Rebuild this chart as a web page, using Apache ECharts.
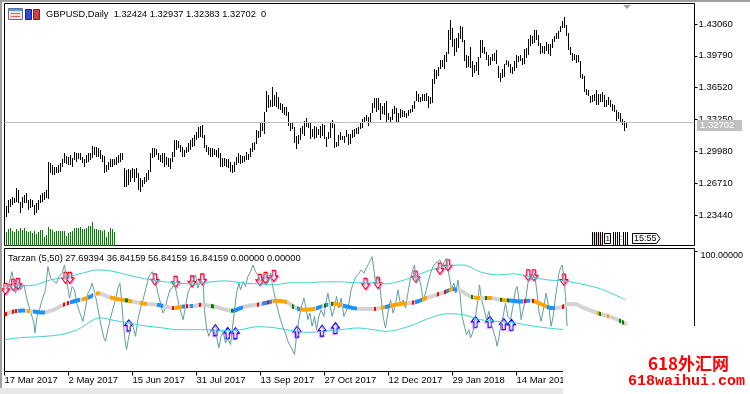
<!DOCTYPE html>
<html><head><meta charset="utf-8">
<script src="https://cdn.jsdelivr.net/npm/echarts@6/dist/echarts.min.js"></script>
<style>html,body{margin:0;padding:0;background:#fff}#c{width:750px;height:394px}</style>
</head><body><div id="c"></div>
<script>
// ---------- DATA ----------
const symbolTitle = 'GBPUSD,Daily';
const lastBar = {open: 1.32424, high: 1.32937, low: 1.32383, close: 1.32702};
const indicatorTitle = 'Tarzan (5,50) 27.69394 36.84159 56.84159 16.84159 0.00000 0.00000';
const dateTicks = ['17 Mar 2017','2 May 2017','15 Jun 2017','31 Jul 2017','13 Sep 2017','27 Oct 2017','12 Dec 2017','29 Jan 2018','14 Mar 2018'];
const dateTickIdx = [0,32,64,96,128,160,192,224,256];
const priceTicks = [1.43060,1.39790,1.36520,1.33250,1.29980,1.26710,1.23440];
const indTicks = [100];

const highs = [
1.2437,1.2498,1.2505,1.2526,1.2515,1.2618,1.2601,1.2481,1.2532,1.2550,
1.2567,1.2498,1.2505,1.2498,1.2447,1.2471,1.2498,1.2550,1.2567,1.2584,
1.2601,1.2892,1.2875,1.2858,1.2841,1.2841,1.2858,1.2875,1.2916,1.2978,
1.2950,1.2943,1.2960,1.2926,1.2995,1.2985,1.2978,1.2978,1.2943,1.2916,
1.2960,1.2978,1.2978,1.3053,1.3046,1.3039,1.3029,1.3012,1.2960,1.2950,
1.2858,1.2892,1.2916,1.2916,1.2916,1.2943,1.2960,1.2978,1.2978,1.2823,
1.2806,1.2813,1.2806,1.2823,1.2813,1.2823,1.2772,1.2721,1.2704,1.2731,
1.2772,1.2806,1.2978,1.3029,1.3029,1.3019,1.2978,1.2960,1.2985,1.2978,
1.2943,1.2926,1.2926,1.2995,1.3114,1.3114,1.3108,1.3063,1.3046,1.3012,
1.3046,1.3080,1.3114,1.3132,1.3166,1.3200,1.3251,1.3258,1.3269,1.3166,
1.3063,1.3046,1.3029,1.3029,1.3019,1.3012,1.3029,1.2978,1.2926,1.2926,
1.2916,1.2916,1.2892,1.2858,1.2892,1.2943,1.2978,1.2960,1.2950,1.2955,
1.2995,1.2975,1.3035,1.3080,1.3095,1.3222,1.3210,1.3290,1.3300,1.3400,
1.3615,1.3575,1.3530,1.3657,1.3580,1.3610,1.3560,1.3490,1.3480,1.3450,
1.3450,1.3400,1.3290,1.3300,1.3250,1.3160,1.3170,1.3240,1.3260,1.3310,
1.3340,1.3300,1.3300,1.3230,1.3260,1.3250,1.3230,1.3260,1.3280,1.3270,
1.3150,1.3200,1.3290,1.3320,1.3280,1.3090,1.3170,1.3200,1.3160,1.3160,
1.3220,1.3180,1.3180,1.3220,1.3230,1.3240,1.3250,1.3290,1.3330,1.3350,
1.3370,1.3350,1.3390,1.3490,1.3550,1.3550,1.3550,1.3490,1.3460,1.3490,
1.3520,1.3390,1.3350,1.3430,1.3460,1.3440,1.3390,1.3430,1.3420,1.3410,
1.3390,1.3420,1.3430,1.3470,1.3520,1.3615,1.3590,1.3560,1.3590,1.3590,
1.3600,1.3565,1.3560,1.3740,1.3840,1.3830,1.3860,1.3940,1.3940,1.3990,
1.4020,1.4240,1.4345,1.4260,1.4150,1.4160,1.4210,1.4290,1.4280,1.4140,
1.3990,1.3980,1.4070,1.3930,1.3880,1.3920,1.3970,1.4140,1.4140,1.4070,
1.4020,1.3990,1.3970,1.4000,1.4010,1.4040,1.3870,1.3800,1.3840,1.3890,
1.3940,1.3930,1.3900,1.3860,1.3930,1.3990,1.3980,1.3990,1.3960,1.4050,
1.4060,1.4150,1.4190,1.4180,1.4240,1.4245,1.4190,1.4110,1.4080,1.4080,
1.4120,1.4100,1.4100,1.4150,1.4180,1.4210,1.4230,1.4290,1.4340,1.4376,
1.4300,1.4210,1.4070,1.4010,1.4000,1.3990,1.3990,1.3930,1.3790,1.3770,
1.3640,1.3630,1.3570,1.3580,1.3590,1.3630,1.3590,1.3590,1.3610,1.3580,
1.3530,1.3560,1.3530,1.3480,1.3470,1.3420,1.3400,1.3390,1.3330,1.3310,
1.32937];
const lows = [
1.2327,1.2361,1.2423,1.2447,1.2464,1.2481,1.2464,1.2368,1.2413,1.2464,
1.2464,1.2396,1.2413,1.2423,1.2344,1.2361,1.2396,1.2464,1.2481,1.2498,
1.2515,1.2505,1.2772,1.2755,1.2755,1.2772,1.2772,1.2789,1.2841,1.2875,
1.2868,1.2858,1.2858,1.2834,1.2909,1.2892,1.2916,1.2909,1.2875,1.2841,
1.2875,1.2892,1.2909,1.2926,1.2960,1.2943,1.2943,1.2916,1.2892,1.2772,
1.2789,1.2806,1.2841,1.2841,1.2858,1.2858,1.2875,1.2892,1.2909,1.2635,
1.2635,1.2652,1.2686,1.2721,1.2686,1.2721,1.2601,1.2584,1.2635,1.2662,
1.2686,1.2704,1.2789,1.2926,1.2943,1.2960,1.2909,1.2892,1.2875,1.2841,
1.2858,1.2841,1.2813,1.2892,1.2943,1.3012,1.3029,1.2995,1.2943,1.2943,
1.2978,1.2995,1.3012,1.3046,1.3053,1.3114,1.3132,1.3149,1.3132,1.3029,
1.2995,1.2960,1.2943,1.2943,1.2960,1.2943,1.2926,1.2841,1.2841,1.2847,
1.2841,1.2823,1.2789,1.2772,1.2789,1.2858,1.2875,1.2870,1.2880,1.2885,
1.2910,1.2910,1.2935,1.2995,1.3015,1.3075,1.3135,1.3150,1.3205,1.3180,
1.3400,1.3440,1.3455,1.3450,1.3460,1.3450,1.3430,1.3420,1.3390,1.3370,
1.3360,1.3260,1.3210,1.3230,1.3080,1.3027,1.3070,1.3110,1.3180,1.3160,
1.3250,1.3240,1.3120,1.3150,1.3120,1.3130,1.3170,1.3140,1.3160,1.3120,
1.3040,1.3120,1.3130,1.3240,1.3030,1.3040,1.3050,1.3110,1.3110,1.3080,
1.3150,1.3060,1.3070,1.3130,1.3150,1.3180,1.3180,1.3230,1.3240,1.3300,
1.3310,1.3260,1.3290,1.3390,1.3440,1.3400,1.3420,1.3320,1.3380,1.3370,
1.3300,1.3320,1.3300,1.3320,1.3380,1.3300,1.3300,1.3340,1.3350,1.3350,
1.3340,1.3360,1.3390,1.3400,1.3430,1.3510,1.3500,1.3500,1.3520,1.3510,
1.3520,1.3440,1.3480,1.3490,1.3690,1.3740,1.3770,1.3840,1.3860,1.3840,
1.3920,1.4000,1.4140,1.4070,1.3980,1.4020,1.4060,1.4150,1.4120,1.3930,
1.3850,1.3860,1.3850,1.3760,1.3800,1.3820,1.3780,1.3960,1.4010,1.4000,
1.3940,1.3870,1.3880,1.3930,1.3930,1.3890,1.3750,1.3710,1.3750,1.3760,
1.3880,1.3860,1.3800,1.3790,1.3820,1.3850,1.3920,1.3930,1.3880,1.3890,
1.3960,1.3990,1.4080,1.4100,1.4110,1.4140,1.4080,1.4000,1.4010,1.4000,
1.4030,1.4000,1.3980,1.4060,1.4120,1.4150,1.4150,1.4220,1.4270,1.4270,
1.4180,1.4040,1.3990,1.3930,1.3940,1.3910,1.3920,1.3750,1.3740,1.3610,
1.3580,1.3570,1.3490,1.3500,1.3520,1.3470,1.3470,1.3500,1.3500,1.3450,
1.3450,1.3470,1.3450,1.3410,1.3400,1.3310,1.3330,1.3300,1.3270,1.3205,
1.32383];
const volumes = [
13300,16700,17300,15000,13300,16700,15000,17300,15700,17300,
15000,14000,15000,12700,15000,11700,13300,16000,15700,8300,
10700,18300,16700,15700,13300,15000,14300,15000,15000,15000,
10000,12700,14000,15000,17300,17300,17300,18300,16700,16700,
17300,19300,20000,23300,16700,16700,15700,15700,15000,15700,
9000,13300,17300,16700,13300];

// Tarzan indicator: [bar index, value]
const rsiPts = [[0,65],[2.8,82.9],[4.5,65],[6.2,74.7],[7,67.8],[8.7,71.9],[10.3,59.5],[12,49.9],[13.7,40.2],[14.2,32],[15.3,45.7],[16.7,52.6],[17.8,59.5],[19.5,67.8],[20.7,87.1],[22,77.4],[23.7,74.7],[25,73.3],[26.2,78.8],[27.8,81.5],[29,88.4],[30.3,73.3],[31.5,60.9],[32.8,70.5],[34,67.8],[35.3,55.4],[37,47.1],[38.2,41.6],[39.5,52.6],[40.7,65],[41.7,67.8],[42.8,73.3],[44.2,65],[45.7,52.6],[47,40.2],[48.7,27.8],[49.5,25.1],[50.7,34.7],[52,44.4],[53.3,52.6],[54.5,59.5],[55.7,69.1],[56.7,73.3],[57.5,59.5],[58.3,43],[59.2,26.4],[60,18.2],[61.2,29.2],[62.3,41.6],[63.7,34.7],[64.5,29.2],[65.7,43],[67,52.6],[68.3,59.5],[69.5,67.8],[71.2,78.8],[72.8,82.9],[73.7,84.3],[74.7,73.3],[75.7,65],[77,56.7],[78.2,48.5],[79.2,51.2],[80.3,59.5],[81.7,67.8],[82.8,69.1],[84,73.3],[85,65],[86.2,55.4],[87.3,48.5],[88.3,43],[89.5,54],[90.7,65],[92,70.5],
[93.3,76],[94.5,80.2],[95.7,69.1],[97,76],[98.3,73.3],[99,51.2],[100,36.1],[101.2,29.2],[102.3,34.7],[103.7,33.3],[105,29.2],[106.2,19.6],[107.3,29.2],[108.3,33.3],[109.5,23.7],[110.7,27.8],[112,22.3],[112.8,33.3],[114,51.2],[115,65],[116.2,73.3],[117,67.8],[118.3,74.7],[119.5,70.5],[120.7,78.8],[122,82.9],[123.3,88.4],[124.5,82.9],[125.7,80.2],[127,74.7],[128.3,78.8],[129.5,81.5],[130.7,73.3],[132,81.5],[133.3,69.1],[134.5,59.5],[135.7,51.2],[137,43],[138.3,36.1],[139.5,31.9],[140.7,25.1],[142,20.9],[143.3,16.8],[144,14],[145,29.2],[146.2,43],[147.3,52.6],[148.7,60.9],[149.8,52.6],[150.7,43],[151.7,48.5],[152.8,37.5],[154,45.7],[155,34.7],[156.2,45.7],[157.3,51.2],[158.7,45.7],[159.5,55.4],[160.7,65],[161.7,55.4],[162.8,45.7],[164,52.6],[165,62.3],[166.2,52.6],[167.3,60.9],[168.7,45.7],[169.8,49.9],[171.2,56.7],[172.3,67.8],[173.7,74.7],[174.8,78.8],[176.2,81.5],[177.3,84.3],[178.7,81.5],[179.8,85.7],[181.2,89.8],[182,92.6],[182.8,95.3],[183.7,84.3],[184.5,73.3],[185.7,78.8],[186.7,70.5],
[188.3,45.7],[189.5,36.1],[190.7,48.5],[192,59.5],[193.3,48.5],[194.5,55.4],[195.7,67.8],[197,55.4],[198.3,59.5],[199.5,52.6],[200.7,65],[202,77.4],[203.2,84.3],[204,88.4],[205,73.3],[206.2,78.8],[207.3,70.5],[208.3,59.5],[209.5,65],[210.7,73.3],[212,81.5],[213.3,87.1],[214.5,89.8],[215.3,88.4],[216.7,92.6],[217.8,87.1],[219,91.2],[220,94],[220.8,84.3],[221.7,76],[222.5,67.8],[223.7,73.3],[224.7,65],[225.7,76],[226.7,65],[227.8,45.7],[229,37.5],[230,30.6],[231.2,34.7],[232,27.8],[233.3,33.3],[234.5,45.7],[235.7,59.5],[236.5,71.9],[237.5,59.5],[238.7,52.6],[240,43],[241.2,49.9],[242.3,40.2],[243.7,32],[244.7,26.4],[245.3,20.9],[246.3,29.2],[247.3,40.2],[248.3,45.7],[249.5,56.7],[250.7,45.7],[252,43],[253.2,54],[254.5,67.8],[255.3,70.5],[256.3,59.5],[257.3,43],[258.7,54],[259.8,62.3],[260.7,73.3],[261.7,80.2],[262.8,76],[264,81.5],[265.3,65],[266.2,49.9],[267.3,41.6],[268.7,54],[269.8,65],[271.2,52.6],[272.3,37.5],[273.3,45.7],[274.3,59.5],[275.3,70.5],[276.2,81.5],[277,85.7],[277.8,88.4],[278.7,78.8],[279.5,62.3],[280.3,37.5],[281,28]];
const upperBand = [[-1,71.1],[7,71.1],[14.5,71.9],[22,76],[30.5,78.5],[38.5,81.8],[45.5,84.3],[52,83.5],[58.5,81],[67,77.7],[75.5,75.2],[84.5,73.6],[94.5,72.5],[102,74.4],[109.5,75.2],[117,73.6],[125.5,72.7],[133.5,71.9],[142,73.6],[150.5,73.6],[158.5,74.4],[167,74.4],[175.5,73.6],[183.5,73.6],[189.5,72.7],[195.5,74.4],[203.5,78.5],[212,84.3],[220.5,87.6],[228.5,88.4],[237,82.6],[245.5,80.2],[253.5,81],[262,78.5],[270.5,76],[278.5,75.2],[287,72.7],[297,68.6],[309.5,59.5]];
const lowerBand = [[-1,26.4],[7,28.1],[17,28.9],[27,30.6],[35.5,34.7],[43.5,43],[47,44.6],[53.5,42.4],[60.5,40.5],[68.5,38],[77,36.4],[85.5,34.7],[94.5,34.7],[100.5,34.7],[108.5,33.9],[117,34.7],[125.5,37.2],[133.5,36.4],[142,34.1],[150.5,32.5],[158.5,33.3],[167,34.7],[175.5,36.1],[183.5,34.7],[189.5,33.3],[195.5,34.7],[203.5,38.8],[212,44.6],[220.5,47.9],[228.5,47.1],[237,43],[245.5,41.6],[253.5,40.5],[262,38],[270.5,36.1],[278.5,34.7],[287,33.1]];
const maPts = [[-1,47.1],[3.5,49.8],[8.5,50.7],[13.5,49.8],[18.5,49],[23.5,51.2],[28.5,55.4],[33.5,58.1],[38.5,60.1],[42,62.2],[46,65],[50.5,62.2],[55.5,60.1],[60.5,58.9],[65.5,57.3],[70.5,56],[75.5,55.4],[80.5,53.5],[83.5,52.6],[88.5,54],[94.5,54.5],[97,55.4],[103.5,54],[108.5,51.8],[113,50.4],[117,52.6],[121,54.5],[125.5,55.4],[130.5,57.3],[135.5,58.7],[140.5,57.3],[143.5,53.5],[148.5,51.2],[153.5,51.8],[158.5,54.5],[163.5,56.2],[168.5,54.5],[173.5,52.6],[178.5,51.8],[183.5,51.8],[189.5,53.5],[192,54.5],[197,56],[202,56.8],[205.5,58.1],[208.5,60.1],[213.5,62.8],[218.5,65.5],[223.5,68.3],[227,67.2],[232,62.2],[237,60.9],[242,60.9],[247,59.5],[252,58.9],[257,58.1],[262,58.9],[267,56.2],[270.5,53.5],[273.5,52.6],[278,53.5],[280.5,55.8],[284.5,56],[287,54],[295.5,48.5],[303.5,44.4],[310.5,38.8]];
// colour state of the MA: [from bar, to bar, state]
const maStates = [[-1.5,0.5,'r'],[3,4,'r'],[4.5,5.5,'r'],[6,9.5,'b'],[10.5,12,'o'],[13.5,19.5,'b'],[28.5,29.5,'r'],[30.5,31.5,'r'],[32,37,'b'],[38,40.5,'o'],[40.5,43.5,'b'],[44.5,47,'o'],[52,59.5,'o'],[59.5,60.5,'g'],[60.5,63,'o'],[67,70.5,'o'],[75.5,78.5,'b'],[83,84,'r'],[84.5,88,'o'],[88,89.5,'b'],[90,91,'r'],[92,93.5,'b'],[96.5,97.5,'r'],[102.5,103.5,'g'],[112.5,113.5,'g'],[113.5,118.5,'b'],[125.5,126.5,'r'],[128,130.5,'b'],[130.5,131.5,'r'],[131.5,133,'b'],[133.5,140.5,'o'],[143,144,'g'],[145.5,147,'b'],[147,154.5,'o'],[155,158,'b'],[159,160,'g'],[160,161,'b'],[162.5,163.5,'g'],[163.5,168,'o'],[168.5,175.5,'b'],[184,185,'r'],[187.5,189.5,'o'],[189.5,192,'b'],[192,200.5,'o'],[203,204,'r'],[204.5,208,'b'],[208,210.5,'o'],[215.5,216.5,'r'],[219,220,'r'],[220,221.5,'b'],[221.5,223.5,'o'],[223.5,225.5,'b'],[232.5,233.5,'g'],[234,237,'o'],[239.5,240.5,'g'],[240.5,243,'o'],[247,248,'g'],[248,250.5,'o'],[250.5,251.5,'g'],[251.5,258.5,'b'],[259,260,'r'],[260,262,'b'],[263,264,'r'],[264,270.5,'o'],[270.5,274.5,'b'],[278,279,'r'],[295.5,296.5,'o'],[296.5,297.5,'g'],[300.5,301.5,'o'],[306.5,307.5,'g'],[308,309,'g'],[310,311,'p']];
const sellSignals = [[-0.5,68.6],[3.35,71.9],[5.65,72.7],[29.5,77.7],[31.65,77.7],[74.15,76.4],[84.5,74.4],[92.75,74.8],[97.85,76.4],[126.65,76],[129.5,77.7],[133.65,79.3],[179.5,72.7],[185.65,73.6],[204.5,78.8],[216.65,85.4],[220.65,88.2],[260.85,79.9],[263.65,79.9],[278.65,76.3]];
const buySignals = [[61.15,38.3],[104.5,34.3],[110.65,32],[114.5,31.8],[145.35,33.1],[157.85,33.9],[164.5,36.1],[234.5,41.3],[241.65,41.3],[248.65,39.4],[252.5,38.8]];

// ---------- CHART ----------
const FONT = '"Liberation Sans", Arial, sans-serif';
const palette = {r:'#ff0000', b:'#1e90ff', o:'#ffa500', g:'#008000', p:'#ffdead'};
const chart = echarts.init(document.getElementById('c'), null, {renderer:'canvas', width:750, height:394});
const bars = highs.map((h,i)=>[i, lows[i], h]);
const vols = volumes.map((v,i)=>[i, v]);
const tickPos = dateTickIdx.map(i=>i-1);

const downArrow = 'path://M3,0L7,0L7,5L10,5L5,10L0,5L3,5Z';
const upArrow = 'path://M5,0L10,5L7,5L7,10L3,10L3,5L0,5Z';
const hiddenAxis = {show:false, axisLine:{show:false, onZero:false}, axisTick:{show:false}, axisLabel:{show:false}, splitLine:{show:false}};

const option = {
  animation:false,
  backgroundColor:'#ffffff',
  grid:[
    {left:4.5, top:3.5, width:690, height:242, show:true, borderColor:'#000', borderWidth:1, backgroundColor:'transparent'},
    {left:4.5, top:248.5, width:690, height:123, show:true, borderColor:'#000', borderWidth:1, backgroundColor:'transparent'}
  ],
  xAxis:[
    Object.assign({gridIndex:0, type:'value', min:-1, max:344}, hiddenAxis),
    {gridIndex:1, type:'value', min:-1, max:344, splitLine:{show:false}, axisLine:{show:false, onZero:false},
     axisTick:{show:true, customValues:tickPos, length:4, lineStyle:{color:'#000'}},
     axisLabel:{show:true, customValues:tickPos, formatter:(v)=>dateTicks[tickPos.indexOf(v)] || '', align:'left', margin:4,
       fontSize:9.5, color:'#000', fontFamily:FONT}}
  ],
  yAxis:[
    {gridIndex:0, type:'value', position:'right', min:1.20307, max:1.45166, splitLine:{show:false}, axisLine:{show:false, onZero:false},
     axisTick:{show:true, customValues:priceTicks, length:3, lineStyle:{color:'#000'}},
     axisLabel:{show:true, customValues:priceTicks, formatter:(v)=>v.toFixed(5), margin:4, fontSize:9.5, color:'#000', fontFamily:FONT}},
    Object.assign({gridIndex:0, type:'value', position:'right', min:0, max:242000}, hiddenAxis),
    {gridIndex:1, type:'value', position:'right', min:0, max:102.07, splitLine:{show:false}, axisLine:{show:false, onZero:false},
     axisTick:{show:true, customValues:indTicks, length:3, lineStyle:{color:'#000'}},
     axisLabel:{show:true, customValues:indTicks, formatter:(v)=>v.toFixed(5), verticalAlign:'top', margin:6, fontSize:9, color:'#000', fontFamily:FONT}}
  ],
  visualMap:[{
    show:false, type:'piecewise', seriesIndex:6, dimension:0,
    pieces: maStates.map(s=>({gte:s[0], lt:s[1], color:palette[s[2]]})),
    outOfRange:{color:'#d3d3d3'}
  }],
  series:[
    {type:'custom', xAxisIndex:0, yAxisIndex:1, data:vols, silent:true,
     renderItem:(p,api)=>{const a=api.coord([api.value(0),0]); const b=api.coord([api.value(0),api.value(1)]);
       const x=Math.floor(a[0]); const y1=Math.round(b[1]); const y0=Math.round(a[1]);
       return {type:'rect', shape:{x:x, y:y1, width:1, height:y0-y1}, style:{fill:'#008000'}};}},
    {type:'custom', xAxisIndex:0, yAxisIndex:0, data:bars, silent:true,
     renderItem:(p,api)=>{const lo=api.coord([api.value(0),api.value(1)]); const hi=api.coord([api.value(0),api.value(2)]);
       const x=Math.floor(lo[0]); const y1=Math.round(hi[1]); const y0=Math.round(lo[1]);
       return {type:'rect', shape:{x:x, y:y1, width:1, height:Math.max(1,y0-y1)}, style:{fill:'#000'}};}},
    {type:'line', xAxisIndex:0, yAxisIndex:0, data:[[bars.length-1, lastBar.close]], showSymbol:false, symbol:'none', lineStyle:{width:0},
     markLine:{silent:true, symbol:['none','none'], lineStyle:{color:'#c0c0c0', type:'solid', width:1},
       label:{show:false}, data:[{yAxis:lastBar.close}]}},
    {type:'line', xAxisIndex:1, yAxisIndex:2, data:rsiPts, symbol:'none', lineStyle:{color:'#5f9ea0', width:1}, silent:true},
    {type:'line', xAxisIndex:1, yAxisIndex:2, data:upperBand, symbol:'none', smooth:0.3, lineStyle:{color:'#40d0d0', width:1}, silent:true},
    {type:'line', xAxisIndex:1, yAxisIndex:2, data:lowerBand, symbol:'none', smooth:0.3, lineStyle:{color:'#40d0d0', width:1}, silent:true},
    {type:'line', xAxisIndex:1, yAxisIndex:2, data:maPts, symbol:'none', smooth:0.4, lineStyle:{width:4}, silent:true},
    {type:'scatter', xAxisIndex:1, yAxisIndex:2, data:sellSignals, symbol:downArrow, symbolSize:[8,11], silent:true,
     itemStyle:{color:'#ffffff', borderColor:'#ff0000', borderWidth:1, shadowColor:'#ff80ff', shadowOffsetX:1, shadowOffsetY:1, shadowBlur:0, opacity:1}},
    {type:'scatter', xAxisIndex:1, yAxisIndex:2, data:buySignals, symbol:upArrow, symbolSize:[8,11], silent:true,
     itemStyle:{color:'#ffffff', borderColor:'#0000ff', borderWidth:1, shadowColor:'#ff80ff', shadowOffsetX:-1, shadowOffsetY:1, shadowBlur:0, opacity:1}}
  ],
  graphic:[
    {type:'rect', shape:{x:0,y:0,width:2,height:394}, style:{fill:'#a0a0a0'}, z:50, silent:true},
    {type:'rect', shape:{x:0,y:0,width:750,height:2}, style:{fill:'#a0a0a0'}, z:50, silent:true},
    {type:'rect', shape:{x:0,y:388,width:563,height:6}, style:{fill:'#e8e8e8'}, z:50, silent:true},
    // title icons
    {type:'rect', shape:{x:8.5,y:8.5,width:14,height:11}, style:{fill:'#f6dede', stroke:'#6070a0', lineWidth:1}, z:50, silent:true},
    {type:'rect', shape:{x:9,y:9,width:13,height:2}, style:{fill:'#7090d0'}, z:51, silent:true},
    {type:'rect', shape:{x:11,y:13,width:9,height:1}, style:{fill:'#e06060'}, z:51, silent:true},
    {type:'rect', shape:{x:11,y:16,width:9,height:1}, style:{fill:'#e06060'}, z:51, silent:true},
    {type:'rect', shape:{x:25.5,y:9.5,width:6,height:10}, style:{fill:'#3048d8', stroke:'#202080', lineWidth:1}, z:50, silent:true},
    {type:'rect', shape:{x:33.5,y:9.5,width:6,height:10}, style:{fill:'#d04040', stroke:'#802020', lineWidth:1}, z:50, silent:true},
    {type:'text', style:{text:symbolTitle+'  '+lastBar.open.toFixed(5)+' '+lastBar.high.toFixed(5)+' '+lastBar.low.toFixed(5)+' '+lastBar.close.toFixed(5)+'  0',
      x:46, y:14, font:'9.3px "Liberation Sans", Arial', fill:'#000', verticalAlign:'middle'}, z:50, silent:true},
    {type:'text', style:{text:indicatorTitle, x:8, y:258, font:'9.3px "Liberation Sans", Arial', fill:'#000', verticalAlign:'middle'}, z:50, silent:true},
    // chart shift marker
    {type:'polygon', shape:{points:[[623,5],[631,5],[627,9]]}, style:{fill:'#a0a0a0'}, z:50, silent:true},
    // one-click trading strip + clock
    {type:'rect', shape:{x:593,y:233,width:4,height:12}, style:{fill:'#bfe8f0'}, z:50, silent:true},
    {type:'rect', shape:{x:597,y:233,width:5,height:12}, style:{fill:'#f8c8d0'}, z:50, silent:true},
    {type:'group', z:51, silent:true, children:[592,594,596,598,600,602,613,615,617,619,623,625,627].map(x=>({type:'rect', z:51, shape:{x:x,y:232,width:1,height:14}, style:{fill:'#000'}}))},
    {type:'rect', shape:{x:604.5,y:233.5,width:6,height:10}, style:{fill:'#fff', stroke:'#000', lineWidth:1}, z:52, silent:true},
    {type:'text', style:{text:'1', x:605.5, y:239, font:'8px "Liberation Sans"', fill:'#000', verticalAlign:'middle'}, z:53, silent:true},
    {type:'text', style:{text:':', x:620, y:238, font:'8px "Liberation Sans"', fill:'#000', verticalAlign:'middle'}, z:53, silent:true},
    {type:'polygon', shape:{points:[[632.5,233.5],[656.5,233.5],[660,238.5],[656.5,243.5],[632.5,243.5]]}, style:{fill:'#fff', stroke:'#000', lineWidth:1}, z:51, silent:true},
    {type:'text', style:{text:'15:55', x:634, y:238.5, font:'9px "Liberation Sans"', fill:'#000', verticalAlign:'middle'}, z:52, silent:true},
    // watermark
    {type:'rect', shape:{x:563,y:326,width:187,height:68}, style:{fill:'#ffffff'}, z:100, silent:true},
    {type:'text', style:{text:'618外汇网', x:648, y:364, font:'bold 17px "Noto Sans CJK SC"', fill:'#ff0000', verticalAlign:'middle'}, z:101, silent:true},
    {type:'text', style:{text:'618waihui.com', x:628, y:381, font:'bold 15px "Liberation Mono", monospace', fill:'#ff0000', verticalAlign:'middle'}, z:101, silent:true},
    // current price label (placed on the price scale below)
    {id:'priceTagBox', type:'rect', z:110, zlevel:1, silent:true, shape:{x:697, y:0, width:45, height:11}, style:{fill:'#c0c0c0'}},
    {id:'priceTagText', type:'text', z:111, zlevel:1, silent:true, style:{text:lastBar.close.toFixed(5), x:700, y:0, font:'9.5px "Liberation Sans", Arial', fill:'#ffffff', verticalAlign:'middle'}}
  ]
};
chart.setOption(option);
const tagY = Math.round(chart.convertToPixel({yAxisIndex:0}, lastBar.close));
chart.setOption({graphic:{elements:[
  {id:'priceTagBox', shape:{x:697, y:tagY-5, width:45, height:11}},
  {id:'priceTagText', style:{text:lastBar.close.toFixed(5), x:700, y:tagY+0.5, font:'9.5px "Liberation Sans", Arial', fill:'#ffffff', verticalAlign:'middle'}}
]}});
</script>
</body></html>
